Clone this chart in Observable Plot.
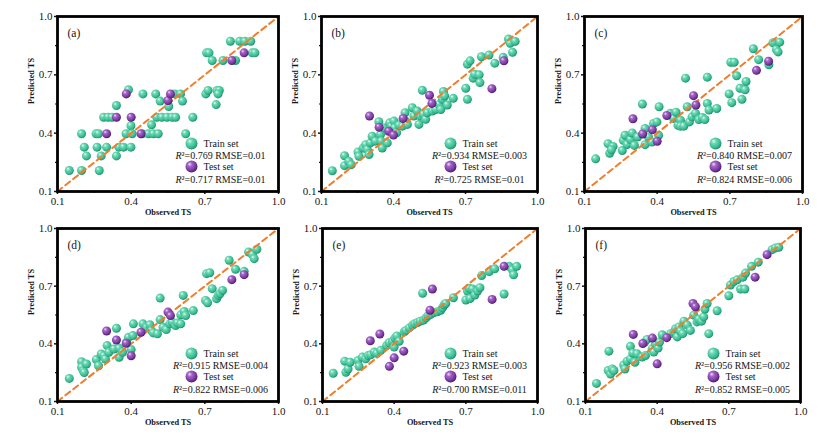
<!DOCTYPE html>
<html><head><meta charset="utf-8">
<script src="https://cdn.jsdelivr.net/npm/d3@7"></script>
<script src="https://cdn.jsdelivr.net/npm/@observablehq/plot@0.6"></script>
<style>
body{margin:0;background:#fff;}
#wrap{position:relative;width:825px;height:441px;overflow:hidden;background:#fff;}
</style></head><body>
<svg width="0" height="0" style="position:absolute"><defs>
<radialGradient id="gTrain" cx="40%" cy="38%" r="62%" fx="34%" fy="30%">
<stop offset="0%" stop-color="#e6fbf3"/><stop offset="30%" stop-color="#70d9b6"/><stop offset="75%" stop-color="#38bd93"/><stop offset="100%" stop-color="#22906b"/>
</radialGradient>
<radialGradient id="gTest" cx="40%" cy="38%" r="62%" fx="34%" fy="30%">
<stop offset="0%" stop-color="#f0dcf8"/><stop offset="30%" stop-color="#a465c8"/><stop offset="75%" stop-color="#7a3aa0"/><stop offset="100%" stop-color="#4e1b70"/>
</radialGradient>
</defs></svg>
<div id="wrap"></div>
<script>
// ---- data ----
const majorTicks = [0.1, 0.4, 0.7, 1.0];
const minorTicks = [0.25, 0.55, 0.85];
const axisLabelX = "Observed TS";
const axisLabelY = "Predicted TS";
const legendTrain = "Train set";
const legendTest = "Test set";
const panelTags = ["(a)", "(b)", "(c)", "(d)", "(e)", "(f)"];
const trainStats = ["R²=0.769 RMSE=0.01", "R²=0.934 RMSE=0.003", "R²=0.840 RMSE=0.007", "R²=0.915 RMSE=0.004", "R²=0.923 RMSE=0.003", "R²=0.956 RMSE=0.002"];
const testStats = ["R²=0.717 RMSE=0.01", "R²=0.725 RMSE=0.01", "R²=0.824 RMSE=0.006", "R²=0.822 RMSE=0.006", "R²=0.700 RMSE=0.011", "R²=0.852 RMSE=0.005"];

const testObs = [0.30, 0.34, 0.38, 0.40, 0.44, 0.55, 0.56, 0.81, 0.86];
const testPredA = [0.397, 0.482, 0.602, 0.482, 0.397, 0.568, 0.602, 0.774, 0.813];
const testPredB = [0.488, 0.431, 0.41, 0.39, 0.476, 0.595, 0.553, 0.629, 0.772];
const testPredC = [0.474, 0.396, 0.418, 0.358, 0.491, 0.593, 0.545, 0.723, 0.77];
const testPredD = [0.467, 0.42, 0.403, 0.338, 0.46, 0.565, 0.547, 0.734, 0.76];
const testPredE = [0.416, 0.451, 0.283, 0.327, 0.362, 0.575, 0.685, 0.631, 0.803];
const testPredF = [0.449, 0.402, 0.43, 0.296, 0.432, 0.61, 0.593, 0.747, 0.864];

const trainA = [[0.148,0.208],[0.198,0.208],[0.270,0.208],[0.198,0.397],[0.257,0.397],[0.267,0.397],
[0.209,0.328],[0.261,0.328],[0.300,0.328],[0.218,0.283],[0.278,0.283],[0.340,0.283],
[0.288,0.482],[0.306,0.482],[0.322,0.482],[0.340,0.542],[0.350,0.328],[0.369,0.328],[0.399,0.328],
[0.389,0.623],[0.399,0.438],[0.379,0.397],[0.404,0.397],[0.445,0.397],[0.47,0.397],[0.49,0.397],[0.51,0.397],
[0.448,0.602],[0.483,0.443],[0.500,0.602],[0.518,0.565],[0.504,0.482],[0.525,0.482],[0.546,0.482],[0.567,0.482],[0.581,0.482],
[0.553,0.537],[0.577,0.602],[0.601,0.602],[0.609,0.565],[0.622,0.397],[0.651,0.482],[0.704,0.602],[0.713,0.620],
[0.707,0.813],[0.717,0.813],[0.730,0.774],[0.749,0.620],[0.759,0.620],[0.754,0.602],[0.746,0.547],[0.774,0.774],
[0.804,0.873],[0.825,0.774],[0.842,0.873],[0.863,0.873],[0.887,0.873],[0.893,0.813],[0.904,0.813]];

const trainB = [[0.145,0.207],[0.196,0.284],[0.196,0.233],[0.214,0.255],[0.224,0.238],[0.252,0.303],[0.256,0.281],
[0.274,0.324],[0.284,0.341],[0.291,0.316],[0.298,0.29],[0.304,0.35],[0.311,0.384],[0.325,0.359],[0.339,0.459],
[0.346,0.393],[0.349,0.359],[0.353,0.324],[0.36,0.428],[0.374,0.35],[0.384,0.453],[0.391,0.436],[0.402,0.462],
[0.405,0.428],[0.413,0.402],[0.423,0.441],[0.437,0.436],[0.448,0.505],[0.451,0.462],[0.458,0.445],[0.478,0.531],
[0.485,0.488],[0.499,0.514],[0.506,0.445],[0.513,0.488],[0.52,0.621],[0.524,0.497],[0.534,0.471],[0.541,0.505],
[0.562,0.514],[0.576,0.522],[0.59,0.548],[0.597,0.522],[0.604,0.574],[0.608,0.614],[0.613,0.591],[0.624,0.545],
[0.649,0.579],[0.701,0.631],[0.708,0.574],[0.708,0.755],[0.719,0.772],[0.732,0.683],[0.738,0.703],[0.757,0.7],
[0.76,0.66],[0.766,0.793],[0.798,0.802],[0.822,0.76],[0.857,0.79],[0.879,0.884],[0.886,0.862],[0.896,0.816],[0.907,0.872]];

const trainC = [[0.146,0.268],[0.197,0.346],[0.204,0.297],[0.218,0.332],[0.211,0.315],[0.256,0.311],[0.26,0.363],
[0.267,0.389],[0.276,0.342],[0.29,0.367],[0.297,0.401],[0.306,0.337],[0.319,0.38],[0.339,0.55],[0.35,0.424],
[0.35,0.341],[0.364,0.38],[0.378,0.354],[0.385,0.45],[0.399,0.458],[0.408,0.536],[0.406,0.389],[0.454,0.502],
[0.468,0.476],[0.478,0.508],[0.486,0.441],[0.496,0.467],[0.496,0.436],[0.51,0.436],[0.517,0.683],[0.524,0.536],
[0.533,0.458],[0.544,0.484],[0.558,0.502],[0.572,0.47],[0.586,0.481],[0.597,0.47],[0.607,0.688],[0.607,0.553],
[0.614,0.519],[0.646,0.527],[0.697,0.602],[0.708,0.557],[0.704,0.765],[0.718,0.765],[0.728,0.695],[0.742,0.631],
[0.75,0.574],[0.763,0.623],[0.767,0.666],[0.797,0.834],[0.819,0.778],[0.861,0.752],[0.878,0.865],[0.892,0.83],
[0.899,0.818],[0.906,0.868]];

const trainD = [[0.148,0.22],[0.198,0.307],[0.198,0.278],[0.205,0.26],[0.218,0.295],[0.209,0.251],
[0.258,0.318],[0.267,0.286],[0.278,0.347],[0.289,0.338],[0.295,0.321],[0.302,0.391],[0.309,0.356],[0.33,0.373],
[0.34,0.481],[0.351,0.377],[0.351,0.33],[0.365,0.356],[0.381,0.408],[0.389,0.434],[0.4,0.37],[0.409,0.504],
[0.407,0.443],[0.448,0.504],[0.463,0.486],[0.476,0.499],[0.483,0.469],[0.49,0.457],[0.507,0.452],[0.518,0.638],
[0.518,0.526],[0.53,0.486],[0.543,0.474],[0.557,0.504],[0.567,0.513],[0.581,0.495],[0.588,0.509],[0.602,0.504],
[0.602,0.551],[0.612,0.652],[0.616,0.568],[0.622,0.547],[0.653,0.573],[0.703,0.626],[0.711,0.614],[0.707,0.765],
[0.72,0.77],[0.73,0.687],[0.748,0.635],[0.755,0.652],[0.762,0.661],[0.772,0.678],[0.799,0.835],[0.825,0.788],
[0.86,0.777],[0.878,0.878],[0.894,0.864],[0.901,0.843],[0.912,0.892]];

const trainE = [[0.145,0.247],[0.193,0.31],[0.198,0.252],[0.207,0.269],[0.216,0.304],[0.249,0.313],[0.253,0.283],
[0.267,0.331],[0.281,0.322],[0.291,0.339],[0.302,0.343],[0.316,0.357],[0.327,0.351],[0.344,0.366],[0.369,0.392],
[0.379,0.406],[0.393,0.413],[0.4,0.383],[0.403,0.43],[0.411,0.441],[0.421,0.413],[0.442,0.462],[0.449,0.47],
[0.463,0.483],[0.477,0.497],[0.486,0.505],[0.498,0.511],[0.509,0.518],[0.519,0.663],[0.523,0.523],[0.533,0.535],
[0.542,0.546],[0.553,0.553],[0.567,0.563],[0.581,0.567],[0.595,0.575],[0.602,0.587],[0.609,0.602],[0.616,0.61],
[0.648,0.64],[0.7,0.628],[0.707,0.675],[0.714,0.689],[0.718,0.636],[0.728,0.685],[0.738,0.654],[0.749,0.675],
[0.759,0.692],[0.766,0.755],[0.798,0.776],[0.821,0.79],[0.86,0.659],[0.881,0.803],[0.895,0.785],[0.9,0.759],[0.913,0.803]];

const trainF = [[0.146,0.194],[0.198,0.362],[0.195,0.261],[0.205,0.243],[0.212,0.269],[0.219,0.261],[0.26,0.29],
[0.265,0.269],[0.274,0.31],[0.288,0.387],[0.288,0.322],[0.298,0.352],[0.307,0.304],[0.316,0.348],[0.337,0.331],
[0.348,0.409],[0.351,0.339],[0.358,0.423],[0.379,0.374],[0.386,0.357],[0.393,0.4],[0.404,0.378],[0.41,0.409],
[0.421,0.447],[0.456,0.453],[0.47,0.462],[0.477,0.479],[0.484,0.436],[0.491,0.488],[0.498,0.465],[0.507,0.453],
[0.512,0.518],[0.526,0.497],[0.539,0.47],[0.553,0.549],[0.567,0.514],[0.574,0.528],[0.586,0.518],[0.595,0.54],
[0.6,0.581],[0.609,0.61],[0.616,0.453],[0.651,0.572],[0.7,0.65],[0.707,0.706],[0.721,0.724],[0.735,0.733],
[0.749,0.685],[0.759,0.747],[0.767,0.685],[0.77,0.768],[0.795,0.803],[0.823,0.825],[0.881,0.89],[0.895,0.899],[0.909,0.902]];

const trainSets = [trainA, trainB, trainC, trainD, trainE, trainF];
const testPreds = [testPredA, testPredB, testPredC, testPredD, testPredE, testPredF];

// ---- layout (frame boxes in page pixels) ----
const frames = [
  {l: 57, t: 16, w: 221, h: 175}, {l: 321, t: 16, w: 216, h: 175}, {l: 584, t: 16, w: 218, h: 175},
  {l: 57, t: 228, w: 221, h: 173}, {l: 322, t: 228, w: 215, h: 173}, {l: 585, t: 228, w: 215, h: 173}
];
const ML = 50, MR = 8, MT = 10, MB = 32;
const FONT = "'Liberation Serif', 'Times New Roman', serif";

const wrap = document.getElementById("wrap");
const fmt = d3.format(".1f");

frames.forEach((f, i) => {
  const test = testObs.map((x, j) => [x, testPreds[i][j]]);
  const svg = Plot.plot({
    width: f.w + ML + MR,
    height: f.h + MT + MB,
    marginLeft: ML, marginRight: MR, marginTop: MT, marginBottom: MB,
    style: {fontFamily: FONT, background: "transparent", color: "#151515", overflow: "visible"},
    x: {domain: [0.1, 1.0]},
    y: {domain: [0.1, 1.0]},
    marks: [
      Plot.axisX({ticks: majorTicks, tickSize: 3, tickPadding: 3, tickFormat: fmt, fontSize: 11, label: null, strokeWidth: 1.5}),
      Plot.axisY({ticks: majorTicks, tickSize: 3, tickPadding: 2, tickFormat: fmt, fontSize: 11, label: null, strokeWidth: 1.5}),
      Plot.axisX({ticks: minorTicks, tickSize: 2, tickFormat: () => "", label: null, strokeWidth: 1.2}),
      Plot.axisY({ticks: minorTicks, tickSize: 2, tickFormat: () => "", label: null, strokeWidth: 1.2}),
      Plot.dot(trainSets[i], {x: d => d[0], y: d => d[1], r: 4.5, fill: "url(#gTrain)"}),
      Plot.line([0.1, 1.0], {x: d => d, y: d => d, stroke: "#f07d2b", strokeWidth: 2, strokeDasharray: "6,4"}),
      Plot.dot(test, {x: d => d[0], y: d => d[1], r: 4.5, fill: "url(#gTest)"}),
      Plot.frame({stroke: "#000", strokeWidth: 2.8}),
      Plot.text([panelTags[i]], {text: d => d, frameAnchor: "top-left", dx: 10, dy: 17, textAnchor: "start", lineAnchor: "middle", fontSize: 11.5}),
      Plot.text([axisLabelX], {text: d => d, frameAnchor: "bottom", dy: 21, lineAnchor: "middle", fontSize: 8.3, fontWeight: "bold"}),
      Plot.text([axisLabelY], {text: d => d, frameAnchor: "left", dx: -26, rotate: -90, lineAnchor: "middle", fontSize: 8.3, fontWeight: "bold"}),
      Plot.dot([legendTrain], {frameAnchor: "bottom-right", dx: -87, dy: -48, r: 6, fill: "url(#gTrain)"}),
      Plot.text([legendTrain], {text: d => d, frameAnchor: "bottom-right", dx: -75, dy: -48, textAnchor: "start", lineAnchor: "middle", fontSize: 10}),
      Plot.text([trainStats[i]], {text: d => d, frameAnchor: "bottom-right", dx: -58, dy: -36, textAnchor: "middle", lineAnchor: "middle", fontSize: 10}),
      Plot.dot([legendTest], {frameAnchor: "bottom-right", dx: -87, dy: -25, r: 6, fill: "url(#gTest)"}),
      Plot.text([legendTest], {text: d => d, frameAnchor: "bottom-right", dx: -75, dy: -25, textAnchor: "start", lineAnchor: "middle", fontSize: 10}),
      Plot.text([testStats[i]], {text: d => d, frameAnchor: "bottom-right", dx: -58, dy: -12, textAnchor: "middle", lineAnchor: "middle", fontSize: 10})
    ]
  });
  svg.style.position = "absolute";
  svg.style.left = (f.l - ML) + "px";
  svg.style.top = (f.t - MT) + "px";
  // italic R in R² labels
  svg.querySelectorAll("text").forEach(t => {
    const s = t.textContent;
    if (s.startsWith("R²") && t.children.length === 0) {
      t.textContent = "";
      const ns = "http://www.w3.org/2000/svg";
      const a = document.createElementNS(ns, "tspan");
      a.setAttribute("font-style", "italic");
      a.textContent = "R";
      const b = document.createElementNS(ns, "tspan");
      b.textContent = s.slice(1);
      t.appendChild(a); t.appendChild(b);
    }
  });
  wrap.appendChild(svg);
});
</script>
</body></html>
